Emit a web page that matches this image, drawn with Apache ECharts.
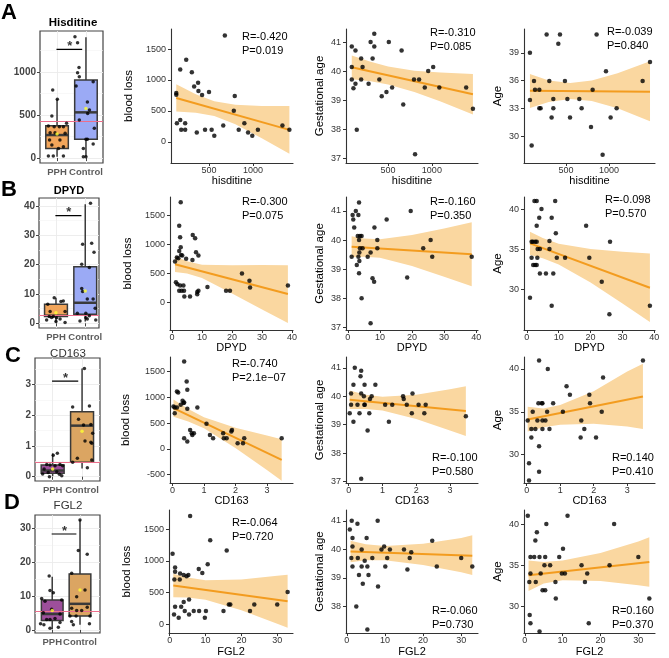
<!DOCTYPE html>
<html>
<head>
<meta charset="utf-8">
<script src="https://cdn.jsdelivr.net/npm/echarts@6/dist/echarts.min.js"></script>
<style>
  html, body { margin: 0; padding: 0; background: #fff; }
  #main { width: 669px; height: 658px; }
</style>
</head>
<body>
<div id="main"></div>
<script>
var groups = ['PPH', 'Control'];

// ---------- box panels: jitter points [x position, value], boxes [pos, lo, q1, med, q3, hi] ----------
var hisPPH = [[0.85,791],[0.82,488],[1.01,682],[0.70,372],[0.90,364],[1.08,364],[1.22,364],[0.76,295],[0.93,295],[1.28,287],[1.33,403],[0.74,209],[1.10,209],[1.22,132],[0.70,23],[0.87,23],[1.22,23],[1.05,112],[0.82,151]];
var hisCtrl = [[1.62,1411],[1.71,1341],[1.76,1054],[1.71,992],[1.77,946],[1.66,837],[2.25,888],[2.05,651],[2.12,558],[2.06,519],[1.77,442],[2.29,345],[2.00,217],[2.05,217],[2.25,163],[1.91,112],[1.91,15],[2.00,15]];
var hisBox = [[1,15,112,267,376,682],[2,15,217,531,907,1403]];
var hisMean = [[1,279],[2,577]];
var hisRef = 430;
var hisSig = [1264, 1264];

var dpydPPH = [[0.94,8.75],[1.17,7.4],[1.25,7.6],[0.72,6.5],[0.80,4.0],[1.31,4.0],[0.77,2.3],[0.91,2.3],[1.02,1.9],[1.14,1.5],[0.85,2.0],[0.68,1.1],[1.00,0.6],[1.31,0.3]];
var dpydCtrl = [[2.18,40.9],[1.91,26.9],[2.22,27.3],[2.30,24.2],[1.88,20.1],[2.14,19.0],[1.88,11.9],[1.91,10.8],[2.27,8.3],[2.07,8.3],[1.73,3.4],[2.02,3.4],[2.14,2.6],[2.34,5.1],[2.02,1.9],[2.07,1.5],[1.82,0.8],[2.36,1.1]];
var dpydBox = [[1,0.3,2.3,2.6,6.5,8.75],[2,0.6,3.1,7.0,19.3,40.6]];
var dpydMean = [[1,3.6],[2,11.0]];
var dpydRef = 2.84;
var dpydSig = [36.7, 36.7];

var cdPPH = [[1.16,0.76],[1.02,0.70],[1.25,0.40],[0.80,0.40],[0.71,0.25],[0.91,0.38],[1.08,0.36],[1.34,0.36],[1.14,0.16],[0.85,0.14],[0.66,0.09],[1.23,0.08],[0.89,0.0],[1.31,0.03]];
var cdCtrl = [[2.08,3.52],[1.68,2.27],[2.25,2.30],[1.88,1.87],[2.05,1.68],[2.30,1.70],[2.36,1.41],[2.10,1.16],[2.30,1.12],[2.33,1.09],[1.68,0.47],[2.33,0.54],[2.18,0.29],[1.84,0.60]];
var cdBox = [[1,0.02,0.11,0.20,0.38,0.76],[2,0.27,0.47,1.66,2.11,3.52]];
var cdMean = [[1,0.25],[2,1.48]];
var cdRef = 0.47;
var cdSig = [3.11, 3.11];

var fgPPH = [[0.89,15.9],[0.92,11.6],[1.04,11.0],[0.62,9.3],[1.34,8.8],[0.74,8.5],[0.98,6.1],[0.68,5.1],[1.28,4.7],[0.80,3.1],[0.92,3.1],[1.10,3.4],[1.28,2.2],[0.58,1.8],[0.70,1.5],[1.22,0.8],[0.92,0.5]];
var fgCtrl = [[2.00,32.4],[1.94,23.4],[2.26,22.3],[1.70,16.7],[1.88,9.8],[2.18,11.8],[1.70,6.4],[1.88,5.7],[2.06,5.7],[2.26,6.7],[1.64,4.1],[1.86,4.1],[2.34,1.8],[1.70,2.5],[1.76,1.5],[2.36,4.1]];
var fgBox = [[1,0.2,2.75,4.7,8.85,15.7],[2,1.5,4.1,7.7,16.5,32.4]];
var fgMean = [[1,5.7],[2,11.8]];
var fgRef = 5.4;
var fgSig = [28.3, 28.3];

// ---------- scatter panels ----------
// A: hisditine
var hisBlood = [[680,1720],[173,1168],[241,1327],[305,1125],[331,897],[376,955],[380,823],[421,759],[500,807],[128,791],[128,764],[135,303],[173,356],[184,196],[229,196],[229,303],[361,154],[455,196],[530,196],[560,101],[662,265],[793,743],[782,504],[838,196],[902,303],[944,154],[992,101],[1056,196],[1335,265],[1414,196]];
var hisBloodFit = [[128,711],[1414,196]];
var hisBloodBand = [[128,491,931],[350,473,771],[560,419,657],[800,285,599],[1100,62,582],[1414,-189,581]];
var hisGest = [[85,40.85],[85,40.14],[85,39.71],[104,39.41],[127,40.71],[127,39.56],[142,37.98],[192,40.43],[208,40.14],[192,39.71],[277,39.56],[300,41.0],[342,41.29],[342,40.85],[323,40.43],[400,39.71],[427,39.13],[481,39.28],[508,41.0],[546,39.43],[654,40.71],[673,38.85],[796,39.71],[854,39.71],[808,37.13],[919,39.43],[958,40.0],[1015,40.14],[1085,39.43],[1392,39.43],[1469,38.70]];
var hisGestFit = [[85,40.13],[1469,39.2]];
var hisGestBand = [[85,39.72,40.54],[300,39.65,40.32],[500,39.54,40.16],[800,39.28,40.01],[1100,38.95,39.95],[1469,38.50,39.90]];
var hisAge = [[81,39.0],[101,29.0],[81,33.9],[128,35.95],[140,35.0],[190,35.0],[190,33.0],[205,33.0],[275,40.97],[306,35.95],[411,39.97],[430,40.97],[333,32.0],[353,33.0],[353,34.0],[488,35.95],[516,34.0],[547,32.0],[655,34.0],[682,33.0],[810,35.0],[856,40.97],[791,31.0],[926,28.0],[965,37.0],[1019,32.0],[1089,33.0],[1391,35.95],[1477,38.0]];
var hisAgeFit = [[81,34.9],[1477,34.8]];
var hisAgeBand = [[81,33.05,36.7],[300,33.7,36.0],[550,34.0,35.75],[800,33.8,36.0],[1100,33.0,36.8],[1477,31.6,38.1]];

// B: DPYD
var dpydBlood = [[2.9,1730],[2.4,1326],[2.7,1125],[2.9,952],[2.4,888],[3.0,819],[3.4,807],[2.1,761],[1.0,704],[1.6,773],[6.9,1165],[7.7,1107],[8.0,865],[8.8,807],[6.8,732],[4.7,750],[1.3,346],[1.8,311],[2.7,288],[3.8,288],[2.4,196],[3.2,196],[4.0,196],[4.1,98],[6.0,98],[8.4,138],[8.8,196],[8.4,173],[11.8,260],[18.0,196],[19.3,196],[23.3,496],[25.8,369],[26.0,254],[38.6,288]];
var dpydBloodFit = [[1.0,658],[38.6,139]];
var dpydBloodBand = [[1,520,796],[5,496,710],[10,420,648],[20,150,640],[30,-130,645],[38.6,-361,639]];
var dpydGest = [[1.2,39.43],[1.5,40.86],[1.7,40.71],[2.0,40.43],[2.5,41.0],[3.3,40.86],[3.5,41.29],[3.1,40.14],[3.8,40.14],[4.3,40.14],[3.5,40.0],[3.6,39.57],[3.3,39.43],[3.6,39.28],[2.8,39.14],[3.5,38.86],[3.8,39.72],[4.6,39.72],[4.3,38.0],[6.2,39.43],[7.1,39.57],[7.7,38.69],[8.2,38.57],[8.3,40.43],[9.2,40.0],[9.2,39.72],[12.1,40.71],[7.1,37.14],[18.5,38.71],[19.6,41.0],[23.5,39.72],[25.8,40.0],[26.3,39.43],[38.6,39.43]];
var dpydGestFit = [[1.2,39.77],[38.6,39.51]];
var dpydGestBand = [[1.2,39.41,40.13],[5,39.43,40.05],[10,39.39,40.03],[20,39.11,40.17],[30,38.74,40.40],[38.6,38.41,40.61]];
var dpydAge = [[1.0,28.92],[1.5,33.92],[1.5,35.92],[2.4,41.0],[3.1,41.0],[1.9,35.92],[2.6,35.92],[3.1,35.92],[2.0,33.0],[2.6,33.0],[3.1,33.0],[3.3,33.92],[3.4,35.0],[4.1,35.0],[3.1,37.92],[3.9,38.92],[4.6,40.0],[4.1,31.96],[6.0,31.96],[7.1,36.0],[7.1,35.0],[7.8,38.92],[8.9,41.0],[9.1,36.96],[9.4,33.92],[8.3,31.96],[7.8,27.92],[12.0,33.92],[18.6,37.92],[19.6,33.92],[23.5,30.92],[26.1,35.92],[25.9,26.88],[38.6,27.92]];
var dpydAgeFit = [[1.0,35.71],[38.6,30.17]];
var dpydAgeBand = [[1,34.25,37.17],[5,33.86,36.38],[10,33.08,35.68],[20,30.82,35.0],[30,28.22,34.66],[38.6,25.9,34.44]];

// C: CD163
var cdX = [0.37,0.45,0.47,0.14,0.18,0.32,0.37,0.26,0.35,0.07,0.03,0.14,0.47,0.79,0.07,1.08,0.37,0.47,0.56,0.63,0.68,0.61,1.19,1.29,1.61,1.63,1.72,1.87,1.89,2.07,2.24,2.28,3.47];
var cdBlood = [1701,1312,1149,1117,1097,935,903,857,890,805,825,805,779,805,695,487,208,143,370,273,305,305,273,208,305,208,208,338,370,110,110,208,208];
var cdGest = [40.9,40.0,39.7,40.4,41.0,39.4,37.1,39.7,40.7,40.1,39.4,39.1,40.4,40.4,39.7,39.7,40.1,39.7,38.8,39.9,40.0,39.4,39.1,39.7,40.0,39.9,39.7,39.4,40.1,39.7,39.4,39.7,39.3];
var cdAge = [41,36,34,33,35,34,28,33,36,29,34,32,33,36,27,35,31,36,34,40,33,35,38,37,32,34,33,37,36,32,35,39,41];
var cdBloodFit = [[0.03,792],[3.47,-214]];
var cdBloodBand = [[0.03,623,961],[0.5,533,777],[1,401,615],[2,19,413],[3,-411,259],[3.47,-617,189]];
var cdGestFit = [[0.03,39.88],[3.47,39.48]];
var cdGestBand = [[0.03,39.55,40.2],[0.5,39.55,40.05],[1,39.5,39.98],[2,39.2,40.05],[3,38.8,40.25],[3.47,38.6,40.35]];
var cdAgeFit = [[0.03,34.1],[3.47,36.8]];
var cdAgeBand = [[0.03,32.7,35.6],[0.5,33.2,35.4],[1,33.5,35.8],[2,33.6,37.4],[3,33.3,39.7],[3.47,33.0,40.6]];

// D: FGL2
var fgX = [0.8,1.5,1.5,1.3,2.9,2.8,3.9,4.7,5.2,5.7,8.1,9.1,10.6,11.3,15.9,1.5,1.2,2.5,3.2,3.9,4.2,5.4,5.4,6.7,8.2,9.8,10.1,15.0,16.5,16.9,22.4,23.6,30.0,32.9];
var fgBlood = [1112,894,827,703,801,703,776,755,776,1706,869,807,946,1324,1163,274,155,103,274,352,207,155,388,207,207,103,207,207,310,310,207,310,310,507];
var fgGest = [40.7,39.4,40.1,41.0,39.7,40.9,39.4,39.6,40.4,39.1,41.0,40.0,39.7,40.0,39.3,40.4,39.7,38.0,39.1,40.0,38.8,37.2,39.4,39.7,38.7,40.1,39.4,40.0,39.7,39.9,40.3,39.4,39.7,39.4];
var fgAge = [41,36,34,29,33,38,36,32,35,40,33,36,34,41,33,28,33,36,39,27,34,32,36,35,31,34,37,35,34,28,35,40,36,31];
var fgBloodFit = [[1,610],[32.9,362]];
var fgBloodBand = [[1,424,796],[5,422,736],[10,387,693],[20,221,703],[30,8,762],[32.9,-57,781]];
var fgGestFit = [[1,39.93],[32.9,39.78]];
var fgGestBand = [[1,39.55,40.3],[5,39.62,40.18],[10,39.62,40.12],[20,39.45,40.2],[30,39.2,40.4],[32.9,39.1,40.5]];
var fgAgeFit = [[1,33.8],[32.9,35.4]];
var fgAgeBand = [[1,31.9,35.6],[5,32.8,35.4],[10,33.2,35.6],[20,33.1,36.5],[30,32.6,37.9],[32.9,32.4,38.4]];

function zip(xs, ys) { return xs.map(function (x, i) { return [x, ys[i]]; }); }
function plain(v) { return String(v); }

var FONT = '"Liberation Sans", Arial, sans-serif';
var grids = [], xAxes = [], yAxes = [], series = [], graphics = [];

function addScatter(p) {
    var i = grids.length;
    grids.push({ left: p.g[0], top: p.g[1], width: p.g[2], height: p.g[3] });
    xAxes.push({
        gridIndex: i, type: 'value', min: p.x[0], max: p.x[1],
        name: p.xName, nameLocation: 'middle', nameGap: 12,
        nameTextStyle: { fontFamily: FONT, fontSize: 11, color: '#000' },
        axisLine: { show: true, onZero: false, lineStyle: { color: '#333', width: 1.1 } },
        axisTick: { show: true, customValues: p.x[2], length: 3, lineStyle: { color: '#333' } },
        axisLabel: { customValues: p.x[2], formatter: plain, fontFamily: FONT, fontSize: 9, color: '#333', margin: 3 },
        splitLine: { show: false }
    });
    yAxes.push({
        gridIndex: i, type: 'value', min: p.y[0], max: p.y[1],
        name: p.yName, nameLocation: 'middle', nameGap: p.gap,
        nameTextStyle: { fontFamily: FONT, fontSize: 11.5, color: '#000' },
        axisLine: { show: true, onZero: false, lineStyle: { color: '#333', width: 1.1 } },
        axisTick: { show: true, customValues: p.y[2], length: 3, lineStyle: { color: '#333' } },
        axisLabel: { customValues: p.y[2], formatter: plain, fontFamily: FONT, fontSize: 9, color: '#333', margin: 5 },
        splitLine: { show: false }
    });
    var band = p.band;
    series.push({
        type: 'custom', xAxisIndex: i, yAxisIndex: i, silent: true, z: 1,
        data: [[band[0][0], band[0][1]]],
        renderItem: function (params, api) {
            var up = [], lo = [];
            band.forEach(function (b) {
                up.push(api.coord([b[0], b[2]]));
                lo.unshift(api.coord([b[0], b[1]]));
            });
            return { type: 'polygon', shape: { points: up.concat(lo) }, style: { fill: '#FAD7A0' } };
        }
    });
    series.push({
        type: 'line', xAxisIndex: i, yAxisIndex: i, data: p.fit, showSymbol: false, silent: true, z: 2,
        lineStyle: { color: '#F39C1F', width: 2 }
    });
    series.push({
        type: 'scatter', xAxisIndex: i, yAxisIndex: i, data: p.pts, symbolSize: 4.5, z: 3,
        itemStyle: { color: '#000' }
    });
    graphics.push({
        type: 'text', left: p.s[0], top: p.s[1],
        style: { text: p.stat.join('\n'), font: '11px ' + FONT, fill: '#000', lineHeight: 14 }
    });
}

function addBox(b) {
    var i = grids.length;
    grids.push({ left: b.g[0], top: b.g[1], width: b.g[2], height: b.g[3], show: true, borderColor: '#444', borderWidth: 1.2, backgroundColor: '#fff' });
    xAxes.push({
        gridIndex: i, type: 'value', min: b.x[0], max: b.x[1],
        axisLine: { show: false },
        axisTick: { show: true, customValues: [1, 2], length: 3, lineStyle: { color: '#444' } },
        axisLabel: { show: false },
        splitLine: { show: false }
    });
    yAxes.push({
        gridIndex: i, type: 'value', min: b.y[0], max: b.y[1],
        axisLine: { show: false },
        axisTick: { show: true, customValues: b.y[2], length: 3, lineStyle: { color: '#444' } },
        axisLabel: { customValues: b.y[2], formatter: plain, fontFamily: FONT, fontSize: 10, fontWeight: 'bold', color: '#444', margin: 4 },
        splitLine: { show: false }
    });
    var gl = b.y[2].map(function (v) { return { yAxis: v }; })
        .concat(b.y[3].map(function (v) { return { yAxis: v, lineStyle: { color: '#F4F4F4', width: 0.6 } }; }))
        .concat([{ xAxis: 1 }, { xAxis: 2 }]);
    series.push({
        type: 'line', xAxisIndex: i, yAxisIndex: i, data: [], z: 0, silent: true,
        markLine: { z: 0, silent: true, symbol: ['none', 'none'], label: { show: false }, lineStyle: { color: '#EBEBEB', width: 0.9, type: 'solid' }, data: gl }
    });
    var colors = b.colors;
    series.push({
        type: 'custom', xAxisIndex: i, yAxisIndex: i, silent: true, z: 2, data: b.box,
        encode: { x: 0, y: [1, 2, 3, 4, 5] },
        renderItem: function (params, api) {
            var pos = api.value(0), hw = 0.39;
            var lo = api.coord([pos, api.value(1)]);
            var hi = api.coord([pos, api.value(5)]);
            var a = api.coord([pos - hw, api.value(4)]);
            var c = api.coord([pos + hw, api.value(2)]);
            var ml = api.coord([pos - hw, api.value(3)]);
            var mr = api.coord([pos + hw, api.value(3)]);
            return { type: 'group', children: [
                { type: 'line', shape: { x1: lo[0], y1: lo[1], x2: hi[0], y2: hi[1] }, style: { stroke: '#3a3a3a', lineWidth: 1.5 } },
                { type: 'rect', shape: { x: a[0], y: a[1], width: c[0] - a[0], height: c[1] - a[1] }, style: { fill: colors[params.dataIndex], stroke: '#3a3a3a', lineWidth: 1.5 } },
                { type: 'line', shape: { x1: ml[0], y1: ml[1], x2: mr[0], y2: mr[1] }, style: { stroke: '#3a3a3a', lineWidth: 2.5 } }
            ] };
        }
    });
    series.push({
        type: 'line', xAxisIndex: i, yAxisIndex: i, data: [], z: 3, silent: true,
        markLine: { z: 3, silent: true, symbol: ['none', 'none'], label: { show: false }, lineStyle: { color: '#EC6F8C', width: 1, type: 'solid' }, data: [{ yAxis: b.ref }] }
    });
    series.push({
        type: 'scatter', xAxisIndex: i, yAxisIndex: i, data: b.pts, symbolSize: 3.5, z: 4, silent: true,
        itemStyle: { color: '#000' }
    });
    series.push({
        type: 'scatter', xAxisIndex: i, yAxisIndex: i, data: b.mean, symbolSize: 3.5, z: 5, silent: true,
        itemStyle: { color: '#FFFF33' }
    });
    series.push({
        type: 'line', xAxisIndex: i, yAxisIndex: i, data: [[0.98, b.sig[0]], [1.87, b.sig[1]]], showSymbol: false, z: 5, silent: true,
        lineStyle: { color: '#000', width: 1.2 }
    });
    series.push({
        type: 'scatter', xAxisIndex: i, yAxisIndex: i, data: [[1.44, b.sig[0]]], symbolSize: 0, z: 5, silent: true,
        label: { show: true, formatter: '*', position: 'inside', offset: [0, -3], fontFamily: FONT, fontSize: 13, fontWeight: 'bold', color: '#000' }
    });
    // group names under the panel, placed through the x scale
    series.push({
        type: 'scatter', xAxisIndex: i, yAxisIndex: i, symbolSize: 0, z: 5, silent: true,
        data: groups.map(function (g, k) { return { value: [k + 1, b.y[0]], name: g }; }),
        label: { show: true, position: 'bottom', distance: 4, formatter: '{b}', fontFamily: FONT, fontSize: 9.5, fontWeight: 'bold', color: '#333' }
    });
    graphics.push({
        type: 'text', x: b.t[0], y: b.t[1],
        style: { text: b.title, textAlign: 'center', textVerticalAlign: 'middle', font: b.tFont + ' ' + FONT, fill: b.tColor }
    });
    graphics.push({
        type: 'text', x: b.l[0], y: b.l[1],
        style: { text: b.letter, textAlign: 'center', textVerticalAlign: 'middle', font: 'bold 22px ' + FONT, fill: '#000' }
    });
}

var orangeBlue = ['#F2A55A', '#9BAAF5'];
var purpleTan = ['#9D4F9B', '#DBA562'];

addBox({ g: [40, 31, 63, 132], x: [0.41, 2.59], y: [-58, 1477, [0, 500, 1000], [250, 750, 1250]],
    box: hisBox, mean: hisMean, pts: hisPPH.concat(hisCtrl), ref: hisRef, sig: hisSig, colors: orangeBlue,
    title: 'Hisditine', t: [73, 23], tFont: 'bold 11.5px', tColor: '#000', letter: 'A', l: [9, 13] });
addBox({ g: [39, 198, 60, 130], x: [0.42, 2.47], y: [-1.6, 42.7, [0, 10, 20, 30, 40], [5, 15, 25, 35]],
    box: dpydBox, mean: dpydMean, pts: dpydPPH.concat(dpydCtrl), ref: dpydRef, sig: dpydSig, colors: orangeBlue,
    title: 'DPYD', t: [69, 191], tFont: 'bold 11px', tColor: '#000', letter: 'B', l: [9, 190] });
addBox({ g: [35, 358, 65, 123], x: [0.40, 2.61], y: [-0.14, 3.86, [0, 1, 2, 3], [0.5, 1.5, 2.5, 3.5]],
    box: cdBox, mean: cdMean, pts: cdPPH.concat(cdCtrl), ref: cdRef, sig: cdSig, colors: purpleTan,
    title: 'CD163', t: [68, 354], tFont: '11.5px', tColor: '#333', letter: 'C', l: [13, 356] });
addBox({ g: [35, 515, 65, 118], x: [0.38, 2.72], y: [-0.9, 33.9, [0, 10, 20, 30], [5, 15, 25]],
    box: fgBox, mean: fgMean, pts: fgPPH.concat(fgCtrl), ref: fgRef, sig: fgSig, colors: purpleTan,
    title: 'FGL2', t: [68, 506], tFont: '11.5px', tColor: '#333', letter: 'D', l: [12, 503] });

var tBlood = [0, 500, 1000, 1500];
var tGest = [37, 38, 39, 40, 41];

addScatter({ g: [171, 29, 122, 134], x: [68, 1455, [500, 1000]], y: [-339, 1823, tBlood], xName: 'hisditine', yName: 'blood loss', gap: 36,
    pts: hisBlood, fit: hisBloodFit, band: hisBloodBand, stat: ['R=-0.420', 'P=0.019'], s: [242, 30] });
addScatter({ g: [346, 29, 132, 134], x: [19, 1527, [500, 1000]], y: [36.83, 41.45, tGest], xName: 'hisditine', yName: 'Gestational age', gap: 20,
    pts: hisGest, fit: hisGestFit, band: hisGestBand, stat: ['R=-0.310', 'P=0.085'], s: [430, 26] });
addScatter({ g: [524, 29, 131, 134], x: [12, 1535, [500, 1000]], y: [27.1, 41.57, [30, 33, 36, 39]], xName: 'hisditine', yName: 'Age', gap: 20,
    pts: hisAge, fit: hisAgeFit, band: hisAgeBand, stat: ['R=-0.039', 'P=0.840'], s: [607, 25] });

addScatter({ g: [170, 197, 123, 133], x: [-0.67, 40.3, [0, 10, 20, 30, 40]], y: [-484, 1823, tBlood], xName: 'DPYD', yName: 'blood loss', gap: 36,
    pts: dpydBlood, fit: dpydBloodFit, band: dpydBloodBand, stat: ['R=-0.300', 'P=0.075'], s: [242, 195] });
addScatter({ g: [346, 197, 132, 133], x: [-0.56, 40.56, [0, 10, 20, 30, 40]], y: [36.91, 41.48, tGest], xName: 'DPYD', yName: 'Gestational age', gap: 20,
    pts: dpydGest, fit: dpydGestFit, band: dpydGestBand, stat: ['R=-0.160', 'P=0.350'], s: [430, 195] });
addScatter({ g: [524, 197, 131, 133], x: [-0.88, 40.2, [0, 10, 20, 30, 40]], y: [24.9, 41.5, [30, 35, 40]], xName: 'DPYD', yName: 'Age', gap: 20,
    pts: dpydAge, fit: dpydAgeFit, band: dpydAgeBand, stat: ['R=-0.098', 'P=0.570'], s: [605, 193] });

addScatter({ g: [170, 357, 123, 126], x: [-0.08, 3.83, [0, 1, 2, 3]], y: [-662, 1786, [-500, 0, 500, 1000, 1500]], xName: 'CD163', yName: 'blood loss', gap: 38,
    pts: zip(cdX, cdBlood), fit: cdBloodFit, band: cdBloodBand, stat: ['R=-0.740', 'P=2.1e\u221207'], s: [232, 357] });
addScatter({ g: [346, 357, 132, 126], x: [-0.08, 3.83, [0, 1, 2, 3]], y: [36.95, 41.38, tGest], xName: 'CD163', yName: 'Gestational age', gap: 20,
    pts: zip(cdX, cdGest), fit: cdGestFit, band: cdGestBand, stat: ['R=-0.100', 'P=0.580'], s: [432, 451] });
addScatter({ g: [524, 357, 131, 126], x: [-0.08, 3.83, [0, 1, 2, 3]], y: [26.7, 41.4, [30, 35, 40]], xName: 'CD163', yName: 'Age', gap: 20,
    pts: zip(cdX, cdAge), fit: cdAgeFit, band: cdAgeBand, stat: ['R=0.140', 'P=0.410'], s: [612, 451] });

addScatter({ g: [169, 510, 124, 125], x: [-0.2, 34.4, [0, 10, 20, 30]], y: [-140, 1800, tBlood], xName: 'FGL2', yName: 'blood loss', gap: 36,
    pts: zip(fgX, fgBlood), fit: fgBloodFit, band: fgBloodBand, stat: ['R=-0.064', 'P=0.720'], s: [232, 516] });
addScatter({ g: [346, 510, 132, 125], x: [-0.2, 34.4, [0, 10, 20, 30]], y: [37.07, 41.38, [38, 39, 40, 41]], xName: 'FGL2', yName: 'Gestational age', gap: 20,
    pts: zip(fgX, fgGest), fit: fgGestFit, band: fgGestBand, stat: ['R=-0.060', 'P=0.730'], s: [432, 604] });
addScatter({ g: [524, 510, 131, 125], x: [-0.2, 34.4, [0, 10, 20, 30]], y: [26.8, 41.7, [30, 35, 40]], xName: 'FGL2', yName: 'Age', gap: 20,
    pts: zip(fgX, fgAge), fit: fgAgeFit, band: fgAgeBand, stat: ['R=0.160', 'P=0.370'], s: [612, 604] });

var mychart = echarts.init(document.getElementById('main'));
mychart.setOption({
    animation: false,
    backgroundColor: '#fff',
    textStyle: { fontFamily: FONT },
    grid: grids,
    xAxis: xAxes,
    yAxis: yAxes,
    series: series,
    graphic: graphics
});
</script>
</body>
</html>
